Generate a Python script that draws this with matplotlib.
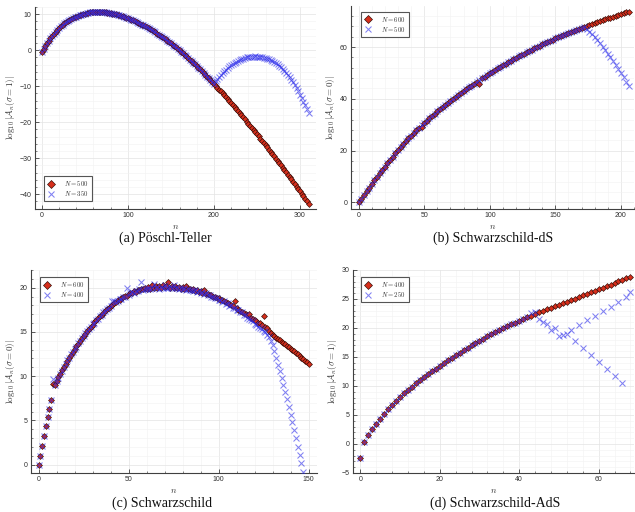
import matplotlib
matplotlib.use("Agg")
import matplotlib.pyplot as plt
from matplotlib.ticker import MultipleLocator

plt.rcParams['mathtext.fontset'] = 'cm'
plt.rcParams['font.family'] = ['Liberation Sans', 'DejaVu Sans']

# ---------------- (a) Poschl-Teller: log10|A_n(sigma=1)|, n = 0, 2, ..., 310
pt_n = list(range(0, 311, 2))
pt_N500 = [
    -0.40, 0.42, 1.20, 1.94, 2.64, 3.30, 3.93, 4.52, 5.09, 5.62,
    6.13, 6.60, 7.03, 7.43, 7.79, 8.10, 8.39, 8.66, 8.91, 9.14,
    9.35, 9.54, 9.72, 9.89, 10.04, 10.18, 10.30, 10.41, 10.49, 10.57,
    10.62, 10.66, 10.67, 10.68, 10.66, 10.63, 10.58, 10.53, 10.46, 10.37,
    10.28, 10.18, 10.06, 9.94, 9.81, 9.67, 9.52, 9.37, 9.20, 9.03,
    8.85, 8.66, 8.47, 8.26, 8.05, 7.84, 7.61, 7.38, 7.14, 6.89,
    6.63, 6.37, 6.10, 5.82, 5.53, 5.24, 4.94, 4.63, 4.32, 3.99,
    3.66, 3.33, 2.98, 2.63, 2.27, 1.91, 1.54, 1.16, 0.77, 0.37,
    -0.03, -0.44, -0.85, -1.27, -1.70, -2.14, -2.58, -3.03, -3.48, -3.94,
    -4.41, -4.88, -5.35, -5.83, -6.32, -6.81, -7.30, -7.80, -8.31, -8.82,
    -9.34, -9.86, -10.39, -10.91, -11.45, -11.98, -12.52, -13.06, -13.60, -14.15,
    -14.70, -15.25, -15.81, -16.37, -16.93, -17.50, -18.07, -18.64, -19.22, -19.80,
    -20.38, -20.97, -21.55, -22.15, -22.74, -23.34, -23.94, -24.55, -25.15, -25.76,
    -26.38, -26.99, -27.61, -28.23, -28.85, -29.48, -30.11, -30.74, -31.38, -32.01,
    -32.66, -33.30, -33.94, -34.59, -35.25, -35.90, -36.56, -37.22, -37.88, -38.55,
    -39.22, -39.89, -40.56, -41.24, -41.92, -42.60,
]
# N = 350 agrees with N = 500 up to n = 200, then turns over
pt_N350 = pt_N500[:101] + [
    -8.68, -8.04, -7.44, -6.88, -6.34, -5.84, -5.36, -4.92, -4.52, -4.14,
    -3.79, -3.48, -3.19, -2.92, -2.69, -2.48, -2.30, -2.15, -2.02, -1.92,
    -1.84, -1.79, -1.75, -1.74, -1.75, -1.79, -1.85, -1.93, -2.03, -2.16,
    -2.32, -2.50, -2.72, -2.98, -3.26, -3.58, -3.93, -4.32, -4.75, -5.21,
    -5.71, -6.26, -6.85, -7.48, -8.16, -8.89, -9.66, -10.49, -11.38, -12.31,
    -13.28, -14.29, -15.32, -16.37, -17.46,
]

# ---------------- (b) Schwarzschild-dS: log10|A_n(sigma=0)|, n = 0, 2, ..., 206
sds_n = list(range(0, 207, 2))
sds_N600 = [
    0.00, 1.43, 2.86, 4.27, 5.66, 7.05, 8.42, 9.79, 11.14, 12.47,
    13.80, 15.11, 16.39, 17.65, 18.89, 20.10, 21.29, 22.44, 23.57, 24.68,
    25.75, 26.80, 27.81, 28.80, 29.20, 30.70, 31.61, 32.51, 33.40, 34.27,
    35.13, 35.97, 36.80, 37.61, 38.41, 39.20, 39.98, 40.74, 41.50, 42.25,
    42.98, 43.71, 44.43, 45.14, 45.84, 46.53, 45.80, 47.89, 48.55, 49.21,
    49.85, 50.49, 51.11, 51.73, 52.35, 52.95, 53.55, 54.13, 54.71, 55.29,
    55.85, 56.41, 56.95, 57.49, 58.03, 58.55, 59.07, 59.57, 60.07, 60.57,
    61.05, 61.53, 61.99, 62.45, 62.91, 63.35, 63.79, 64.22, 64.64, 65.06,
    65.48, 65.88, 66.28, 66.68, 67.07, 67.45, 67.83, 68.20, 68.58, 68.94,
    69.31, 69.67, 70.03, 70.38, 70.74, 71.08, 71.43, 71.77, 72.11, 72.44,
    72.78, 73.10, 73.43, 73.75,
]
sds_N500 = [
    0.00, 1.43, 2.86, 4.27, 5.66, 7.05, 8.42, 9.79, 11.14, 12.47,
    13.80, 15.11, 16.39, 17.65, 18.89, 20.10, 21.29, 22.44, 23.57, 24.68,
    25.75, 26.80, 27.81, 28.80, 29.77, 30.70, 31.61, 32.51, 33.40, 34.27,
    35.13, 35.97, 36.80, 37.61, 38.41, 39.20, 39.98, 40.74, 41.50, 42.25,
    42.98, 43.71, 44.43, 45.14, 45.84, 46.53, 47.22, 47.89, 48.55, 49.21,
    49.85, 50.49, 51.11, 51.73, 52.35, 52.95, 53.55, 54.13, 54.71, 55.29,
    55.85, 56.41, 56.95, 57.49, 58.03, 58.55, 59.07, 59.57, 60.07, 60.57,
    61.05, 61.53, 61.99, 62.45, 62.91, 63.35, 63.79, 64.22, 64.64, 65.06,
    65.48, 65.88, 66.28, 66.68, 67.07, 67.45, 67.83, 66.90, 66.00, 64.90,
    63.80, 62.60, 61.40, 60.10, 58.80, 57.50, 56.10, 54.70, 53.20, 51.60,
    50.00, 48.40, 46.70, 45.00,
]

# ---------------- (c) Schwarzschild: log10|A_n(sigma=0)|
sch_n600 = list(range(0, 151))
sch_N600 = [
    -0.08, 1.02, 2.15, 3.28, 4.37, 5.35, 6.33, 7.34, 9.10, 8.95,
    9.45, 9.86, 10.27, 10.66, 11.03, 11.40, 11.76, 12.10, 12.44, 12.76,
    13.08, 13.39, 13.69, 13.98, 14.26, 14.54, 14.81, 15.08, 15.34, 15.59,
    15.83, 16.07, 16.30, 16.53, 16.75, 16.96, 17.17, 17.37, 17.56, 17.75,
    17.92, 18.05, 18.30, 18.40, 18.60, 18.65, 18.85, 18.90, 19.10, 19.10,
    19.30, 19.45, 19.40, 19.60, 19.55, 19.75, 19.70, 19.85, 19.80, 20.00,
    19.85, 20.05, 19.90, 20.25, 20.00, 20.15, 19.95, 20.20, 20.00, 20.25,
    20.05, 20.15, 20.60, 20.00, 20.20, 20.00, 20.15, 19.95, 20.10, 19.90,
    20.05, 19.90, 20.15, 19.85, 19.90, 19.75, 19.85, 19.65, 19.75, 19.55,
    19.65, 19.45, 19.70, 19.30, 19.30, 19.15, 19.15, 18.95, 18.95, 18.80,
    18.80, 18.60, 18.60, 18.45, 18.35, 18.25, 18.15, 18.00, 17.90, 18.45,
    17.65, 17.50, 17.40, 17.25, 17.15, 17.00, 16.90, 17.00, 16.60, 16.50,
    16.35, 16.25, 16.05, 16.00, 15.80, 16.75, 15.55, 15.40, 15.15, 14.90,
    14.65, 14.50, 14.35, 14.20, 14.05, 13.90, 13.75, 13.60, 13.45, 13.25,
    13.10, 12.95, 12.80, 12.60, 12.45, 12.30, 12.10, 11.95, 11.75, 11.60,
    11.40,
]
sch_n400 = list(range(0, 148))
sch_N400 = [
    -0.08, 1.02, 2.15, 3.28, 4.37, 5.35, 6.33, 7.34, 9.66, 8.96,
    9.45, 9.80, 10.30, 10.60, 11.05, 11.35, 11.80, 12.05, 12.45, 12.70,
    13.10, 13.35, 13.70, 13.95, 14.30, 14.50, 14.85, 15.05, 15.35, 15.55,
    15.85, 16.05, 16.35, 16.50, 16.80, 16.90, 17.20, 17.35, 17.60, 17.70,
    17.95, 18.45, 18.50, 18.35, 18.50, 18.70, 18.75, 18.95, 19.00, 19.95,
    19.20, 19.35, 19.50, 19.45, 19.65, 19.60, 19.80, 20.60, 19.75, 19.90,
    19.80, 19.95, 19.85, 20.00, 20.40, 19.95, 20.10, 19.90, 20.05, 19.95,
    20.30, 20.00, 19.95, 20.10, 19.95, 20.35, 19.95, 20.00, 19.90, 20.00,
    19.80, 19.95, 19.75, 19.90, 19.70, 19.75, 19.60, 19.70, 19.50, 19.60,
    19.40, 19.50, 19.30, 19.35, 19.15, 19.20, 18.95, 19.00, 18.80, 18.85,
    18.60, 18.65, 18.40, 18.45, 18.20, 18.25, 17.95, 18.00, 17.70, 17.75,
    17.50, 17.50, 17.20, 17.20, 16.90, 16.95, 16.60, 16.50, 16.30, 16.20,
    15.95, 15.80, 15.60, 15.40, 15.30, 15.10, 14.95, 14.70, 14.40, 14.00,
    13.50, 12.80, 12.10, 11.30, 10.60, 9.75, 9.00, 8.20, 7.40, 6.50,
    5.60, 4.80, 3.90, 3.00, 2.00, 1.10, 0.15, -0.80,
]

# ---------------- (d) Schwarzschild-AdS: log10|A_n(sigma=1)|, n = 0..68
ads_n = list(range(0, 69))
ads_N400 = [
    -2.45, 0.35, 1.50, 2.50, 3.45, 4.35, 5.20, 6.00, 6.75, 7.45,
    8.10, 8.71, 9.30, 9.88, 10.44, 10.98, 11.50, 12.01, 12.51, 13.00,
    13.48, 13.95, 14.40, 14.85, 15.30, 15.73, 16.16, 16.57, 16.98, 17.39,
    17.78, 18.17, 18.54, 18.91, 19.27, 19.62, 19.96, 20.29, 20.61, 20.93,
    21.23, 21.53, 21.82, 22.11, 22.40, 22.68, 22.96, 23.23, 23.50, 23.77,
    24.03, 24.29, 24.55, 24.82, 25.08, 25.34, 25.61, 25.88, 26.14, 26.41,
    26.68, 26.95, 27.22, 27.49, 27.76, 28.03, 28.30, 28.57, 28.84,
]
ads_N250 = ads_N400[:43] + [
    22.60, 22.70, 21.50, 21.10, 20.60, 19.70, 20.00, 18.70, 18.80, 18.90,
    19.70, 17.70, 20.50, 16.50, 21.40, 15.40, 22.10, 14.10, 22.90, 13.00,
    23.70, 11.70, 24.50, 10.50, 25.40, 26.20,
]

RED = '#d62f1c'
RED_EDGE = '#2e0a06'
BLUE = '#2b2bea'
AXC = '#404040'

fig = plt.figure(figsize=(6.35, 5.12), dpi=100)


def panel(rect, xlim, ylim, xmaj, xmin, ymaj, ymin, ylab):
    ax = fig.add_axes(rect)
    ax.set_xlim(*xlim)
    ax.set_ylim(*ylim)
    ax.xaxis.set_major_locator(MultipleLocator(xmaj))
    ax.xaxis.set_minor_locator(MultipleLocator(xmin))
    ax.yaxis.set_major_locator(MultipleLocator(ymaj))
    ax.yaxis.set_minor_locator(MultipleLocator(ymin))
    for s in ('top', 'right'):
        ax.spines[s].set_visible(False)
    for s in ('left', 'bottom'):
        ax.spines[s].set_color(AXC)
        ax.spines[s].set_linewidth(0.8)
    ax.tick_params(which='both', direction='in', color=AXC,
                   labelsize=5, labelcolor='#303030', pad=2.5)
    ax.tick_params(which='major', length=3.0, width=0.6)
    ax.tick_params(which='minor', length=1.6, width=0.45)
    ax.grid(which='major', color='#e3e3e3', lw=0.5)
    ax.grid(which='minor', color='#f2f2f2', lw=0.4)
    ax.set_axisbelow(True)
    ax.set_xlabel(r'$n$', fontsize=6.5, color='#333333', labelpad=1.5)
    ax.set_ylabel(ylab, fontsize=6.5, color='#333333', labelpad=2)
    return ax


def series(ax, xr, yr, lr, xb, yb, lb, loc, anchor):
    ax.plot(xr, yr, ls='none', marker='D', ms=3.0, mfc=RED, mec=RED_EDGE,
            mew=0.45, label=lr, zorder=3)
    ax.plot(xb, yb, ls='none', marker='x', ms=4.0, color=BLUE, mew=0.75,
            alpha=0.6, label=lb, zorder=4)
    leg = ax.legend(loc=loc, bbox_to_anchor=anchor, borderaxespad=0,
                    fontsize=4.8, frameon=True, fancybox=False,
                    edgecolor='#555555', framealpha=1, handlelength=1.2,
                    handletextpad=1.4, borderpad=0.45, labelspacing=0.15,
                    markerscale=1.25)
    leg.get_frame().set_linewidth(0.8)
    for t in leg.get_texts():
        t.set_color('#333333')


ax_a = panel([0.0551, 0.5918, 0.4425, 0.3945], (-8, 318.6), (-44.1, 12.0),
             100, 20, 10, 2, r'$\log_{10}|\mathcal{A}_n(\sigma=1)|$')
series(ax_a, pt_n, pt_N500, r'$N=500$', pt_n, pt_N350, r'$N=350$',
       'lower left', (0.032, 0.04))

ax_b = panel([0.5528, 0.5918, 0.4457, 0.3965], (-5.8, 210), (-2.6, 75.9),
             50, 10, 20, 4, r'$\log_{10}|\mathcal{A}_n(\sigma=0)|$')
series(ax_b, sds_n, sds_N600, r'$N=600$', sds_n, sds_N500, r'$N=500$',
       'upper left', (0.034, 0.972))

ax_c = panel([0.0488, 0.0762, 0.4504, 0.3965], (-4.2, 154.7), (-0.94, 22.0),
             50, 10, 5, 1, r'$\log_{10}|\mathcal{A}_n(\sigma=0)|$')
series(ax_c, sch_n600, sch_N600, r'$N=600$', sch_n400, sch_N400, r'$N=400$',
       'upper left', (0.031, 0.966))

ax_d = panel([0.5559, 0.0762, 0.4425, 0.3965], (-1.84, 68.9), (-5, 30),
             20, 4, 5, 1, r'$\log_{10}|\mathcal{A}_n(\sigma=1)|$')
series(ax_d, ads_n, ads_N400, r'$N=400$', ads_n, ads_N250, r'$N=250$',
       'upper left', (0.028, 0.966))

cap = dict(family='Liberation Serif', fontsize=10, ha='center', va='center',
           color='#111111')
fig.text(0.260, 1 - 238 / 512, '(a) Pöschl-Teller', **cap)
fig.text(0.776, 1 - 238 / 512, '(b) Schwarzschild-dS', **cap)
fig.text(0.255, 1 - 503 / 512, '(c) Schwarzschild', **cap)
fig.text(0.780, 1 - 503 / 512, '(d) Schwarzschild-AdS', **cap)

fig.savefig('out.png', dpi=100)
